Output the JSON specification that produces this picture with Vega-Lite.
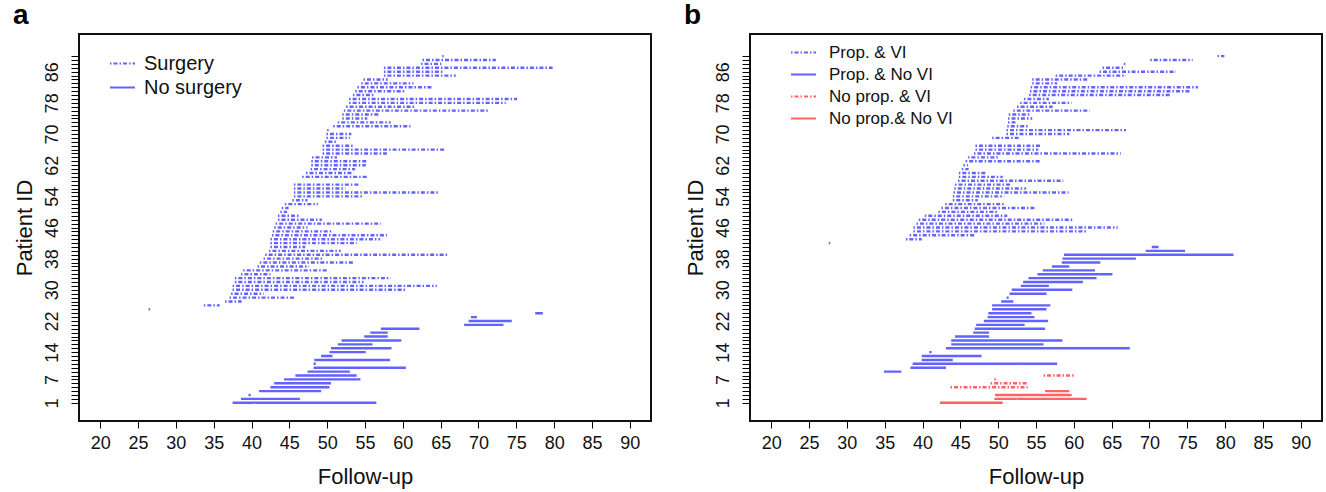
{
  "$schema": "https://vega.github.io/schema/vega-lite/v6.json",
  "padding": {"left": 11, "top": 1, "right": 4, "bottom": 4},
  "background": "white",
  "config": {
    "font": "Liberation Sans",
    "view": {"stroke": "#111", "strokeWidth": 2},
    "axis": {"grid": false, "domain": false, "tickColor": "#000", "tickWidth": 1, "labelColor": "#111", "titleColor": "#111", "titleFontWeight": "normal"},
    "legend": {"padding": 0}
  },
  "spacing": 30,
  "resolve": {"scale": {"color": "independent", "strokeDash": "independent"}, "legend": {"color": "independent", "strokeDash": "independent"}},
  "datasets": {
    "a": [
      {"id": 1, "start": 37.5, "end": 56.5, "group": "No surgery"},
      {"id": 2, "start": 38.6, "end": 46.4, "group": "No surgery"},
      {"id": 3, "start": 39.6, "end": 39.9, "group": "No surgery"},
      {"id": 4, "start": 41.0, "end": 49.2, "group": "No surgery"},
      {"id": 5, "start": 42.5, "end": 50.3, "group": "No surgery"},
      {"id": 6, "start": 43.0, "end": 50.5, "group": "No surgery"},
      {"id": 7, "start": 44.3, "end": 54.4, "group": "No surgery"},
      {"id": 8, "start": 45.8, "end": 53.9, "group": "No surgery"},
      {"id": 9, "start": 47.4, "end": 53.0, "group": "No surgery"},
      {"id": 10, "start": 48.2, "end": 60.4, "group": "No surgery"},
      {"id": 11, "start": 48.2, "end": 48.5, "group": "No surgery"},
      {"id": 12, "start": 48.3, "end": 58.3, "group": "No surgery"},
      {"id": 13, "start": 49.2, "end": 50.7, "group": "No surgery"},
      {"id": 14, "start": 50.3, "end": 55.1, "group": "No surgery"},
      {"id": 15, "start": 50.5, "end": 58.5, "group": "No surgery"},
      {"id": 16, "start": 51.4, "end": 56.0, "group": "No surgery"},
      {"id": 17, "start": 51.9, "end": 59.8, "group": "No surgery"},
      {"id": 18, "start": 54.9, "end": 58.0, "group": "No surgery"},
      {"id": 19, "start": 55.7, "end": 58.0, "group": "No surgery"},
      {"id": 20, "start": 57.1, "end": 62.2, "group": "No surgery"},
      {"id": 21, "start": 68.1, "end": 73.3, "group": "No surgery"},
      {"id": 22, "start": 68.7, "end": 74.4, "group": "No surgery"},
      {"id": 23, "start": 69.0, "end": 69.8, "group": "No surgery"},
      {"id": 24, "start": 77.5, "end": 78.5, "group": "No surgery"},
      {"id": 25, "start": 26.4, "end": 26.7, "group": "Surgery"},
      {"id": 26, "start": 33.7, "end": 35.8, "group": "Surgery"},
      {"id": 27, "start": 36.5, "end": 38.7, "group": "Surgery"},
      {"id": 28, "start": 37.1, "end": 45.7, "group": "Surgery"},
      {"id": 29, "start": 37.3, "end": 41.6, "group": "Surgery"},
      {"id": 30, "start": 37.5, "end": 60.3, "group": "Surgery"},
      {"id": 31, "start": 37.5, "end": 64.5, "group": "Surgery"},
      {"id": 32, "start": 37.8, "end": 54.8, "group": "Surgery"},
      {"id": 33, "start": 37.8, "end": 58.4, "group": "Surgery"},
      {"id": 34, "start": 38.6, "end": 42.5, "group": "Surgery"},
      {"id": 35, "start": 38.9, "end": 50.0, "group": "Surgery"},
      {"id": 36, "start": 40.8, "end": 47.6, "group": "Surgery"},
      {"id": 37, "start": 41.1, "end": 53.4, "group": "Surgery"},
      {"id": 38, "start": 41.6, "end": 49.6, "group": "Surgery"},
      {"id": 39, "start": 41.8, "end": 66.0, "group": "Surgery"},
      {"id": 40, "start": 42.3, "end": 51.8, "group": "Surgery"},
      {"id": 41, "start": 42.5, "end": 47.1, "group": "Surgery"},
      {"id": 42, "start": 42.5, "end": 53.9, "group": "Surgery"},
      {"id": 43, "start": 42.5, "end": 57.0, "group": "Surgery"},
      {"id": 44, "start": 42.7, "end": 57.9, "group": "Surgery"},
      {"id": 45, "start": 42.8, "end": 50.7, "group": "Surgery"},
      {"id": 46, "start": 43.0, "end": 47.4, "group": "Surgery"},
      {"id": 47, "start": 43.2, "end": 57.1, "group": "Surgery"},
      {"id": 48, "start": 43.5, "end": 49.3, "group": "Surgery"},
      {"id": 49, "start": 43.5, "end": 46.3, "group": "Surgery"},
      {"id": 50, "start": 43.8, "end": 44.7, "group": "Surgery"},
      {"id": 51, "start": 44.0, "end": 44.9, "group": "Surgery"},
      {"id": 52, "start": 44.4, "end": 48.8, "group": "Surgery"},
      {"id": 53, "start": 45.4, "end": 47.4, "group": "Surgery"},
      {"id": 54, "start": 45.6, "end": 54.8, "group": "Surgery"},
      {"id": 55, "start": 45.6, "end": 64.8, "group": "Surgery"},
      {"id": 56, "start": 45.6, "end": 52.4, "group": "Surgery"},
      {"id": 57, "start": 45.6, "end": 54.4, "group": "Surgery"},
      {"id": 59, "start": 46.7, "end": 55.3, "group": "Surgery"},
      {"id": 60, "start": 47.2, "end": 53.5, "group": "Surgery"},
      {"id": 61, "start": 47.8, "end": 53.7, "group": "Surgery"},
      {"id": 62, "start": 47.9, "end": 55.1, "group": "Surgery"},
      {"id": 63, "start": 47.9, "end": 55.3, "group": "Surgery"},
      {"id": 64, "start": 48.0, "end": 51.3, "group": "Surgery"},
      {"id": 65, "start": 49.4, "end": 57.9, "group": "Surgery"},
      {"id": 66, "start": 49.4, "end": 65.6, "group": "Surgery"},
      {"id": 67, "start": 49.4, "end": 53.4, "group": "Surgery"},
      {"id": 68, "start": 49.7, "end": 51.2, "group": "Surgery"},
      {"id": 69, "start": 49.9, "end": 53.0, "group": "Surgery"},
      {"id": 70, "start": 49.9, "end": 53.2, "group": "Surgery"},
      {"id": 71, "start": 50.0, "end": 50.3, "group": "Surgery"},
      {"id": 72, "start": 50.8, "end": 61.0, "group": "Surgery"},
      {"id": 73, "start": 51.4, "end": 58.4, "group": "Surgery"},
      {"id": 74, "start": 52.0, "end": 55.3, "group": "Surgery"},
      {"id": 75, "start": 52.0, "end": 56.9, "group": "Surgery"},
      {"id": 76, "start": 52.2, "end": 71.5, "group": "Surgery"},
      {"id": 77, "start": 52.5, "end": 61.7, "group": "Surgery"},
      {"id": 78, "start": 52.9, "end": 73.6, "group": "Surgery"},
      {"id": 79, "start": 52.9, "end": 75.1, "group": "Surgery"},
      {"id": 80, "start": 53.4, "end": 56.1, "group": "Surgery"},
      {"id": 81, "start": 53.7, "end": 60.4, "group": "Surgery"},
      {"id": 82, "start": 54.0, "end": 63.9, "group": "Surgery"},
      {"id": 83, "start": 54.5, "end": 61.4, "group": "Surgery"},
      {"id": 84, "start": 54.8, "end": 58.0, "group": "Surgery"},
      {"id": 85, "start": 57.5, "end": 67.0, "group": "Surgery"},
      {"id": 86, "start": 57.5, "end": 65.3, "group": "Surgery"},
      {"id": 87, "start": 57.5, "end": 79.8, "group": "Surgery"},
      {"id": 88, "start": 62.4, "end": 65.1, "group": "Surgery"},
      {"id": 89, "start": 62.6, "end": 72.3, "group": "Surgery"},
      {"id": 90, "start": 65.2, "end": 65.5, "group": "Surgery"}
    ],
    "b": [
      {"id": 1, "start": 42.3, "end": 50.6, "group": "No prop.& No VI"},
      {"id": 2, "start": 49.5, "end": 61.7, "group": "No prop.& No VI"},
      {"id": 3, "start": 49.6, "end": 59.7, "group": "No prop.& No VI"},
      {"id": 4, "start": 56.2, "end": 59.4, "group": "No prop.& No VI"},
      {"id": 5, "start": 43.7, "end": 53.9, "group": "No prop. & VI"},
      {"id": 6, "start": 49.0, "end": 54.0, "group": "No prop. & VI"},
      {"id": 7, "start": 49.5, "end": 49.8, "group": "No prop. & VI"},
      {"id": 8, "start": 56.0, "end": 60.1, "group": "No prop. & VI"},
      {"id": 9, "start": 34.9, "end": 37.2, "group": "Prop. & No VI"},
      {"id": 10, "start": 38.4, "end": 43.1, "group": "Prop. & No VI"},
      {"id": 11, "start": 38.7, "end": 57.8, "group": "Prop. & No VI"},
      {"id": 12, "start": 39.9, "end": 44.0, "group": "Prop. & No VI"},
      {"id": 13, "start": 39.9, "end": 47.8, "group": "Prop. & No VI"},
      {"id": 14, "start": 40.9, "end": 41.2, "group": "Prop. & No VI"},
      {"id": 15, "start": 43.1, "end": 67.4, "group": "Prop. & No VI"},
      {"id": 16, "start": 43.8, "end": 56.0, "group": "Prop. & No VI"},
      {"id": 17, "start": 43.8, "end": 58.5, "group": "Prop. & No VI"},
      {"id": 18, "start": 44.3, "end": 48.8, "group": "Prop. & No VI"},
      {"id": 19, "start": 46.7, "end": 48.8, "group": "Prop. & No VI"},
      {"id": 20, "start": 46.9, "end": 56.2, "group": "Prop. & No VI"},
      {"id": 21, "start": 47.1, "end": 53.5, "group": "Prop. & No VI"},
      {"id": 22, "start": 48.1, "end": 56.6, "group": "Prop. & No VI"},
      {"id": 23, "start": 48.6, "end": 54.8, "group": "Prop. & No VI"},
      {"id": 24, "start": 48.7, "end": 54.4, "group": "Prop. & No VI"},
      {"id": 25, "start": 49.2, "end": 56.4, "group": "Prop. & No VI"},
      {"id": 26, "start": 49.2, "end": 56.9, "group": "Prop. & No VI"},
      {"id": 27, "start": 50.4, "end": 52.0, "group": "Prop. & No VI"},
      {"id": 28, "start": 51.1, "end": 51.4, "group": "Prop. & No VI"},
      {"id": 29, "start": 51.5, "end": 56.4, "group": "Prop. & No VI"},
      {"id": 30, "start": 51.8, "end": 59.8, "group": "Prop. & No VI"},
      {"id": 31, "start": 53.0, "end": 56.7, "group": "Prop. & No VI"},
      {"id": 32, "start": 53.3, "end": 61.2, "group": "Prop. & No VI"},
      {"id": 33, "start": 54.0, "end": 63.0, "group": "Prop. & No VI"},
      {"id": 34, "start": 55.2, "end": 65.1, "group": "Prop. & No VI"},
      {"id": 35, "start": 55.9, "end": 62.8, "group": "Prop. & No VI"},
      {"id": 36, "start": 57.1, "end": 59.4, "group": "Prop. & No VI"},
      {"id": 37, "start": 58.4, "end": 63.5, "group": "Prop. & No VI"},
      {"id": 38, "start": 58.5, "end": 68.2, "group": "Prop. & No VI"},
      {"id": 39, "start": 58.7, "end": 81.1, "group": "Prop. & No VI"},
      {"id": 40, "start": 69.5, "end": 74.7, "group": "Prop. & No VI"},
      {"id": 41, "start": 70.3, "end": 71.2, "group": "Prop. & No VI"},
      {"id": 42, "start": 27.6, "end": 27.9, "group": "Prop. & VI"},
      {"id": 43, "start": 37.8, "end": 39.9, "group": "Prop. & VI"},
      {"id": 44, "start": 38.3, "end": 47.0, "group": "Prop. & VI"},
      {"id": 45, "start": 38.8, "end": 61.6, "group": "Prop. & VI"},
      {"id": 46, "start": 38.8, "end": 65.8, "group": "Prop. & VI"},
      {"id": 47, "start": 39.2, "end": 56.1, "group": "Prop. & VI"},
      {"id": 48, "start": 39.5, "end": 59.8, "group": "Prop. & VI"},
      {"id": 49, "start": 40.3, "end": 51.2, "group": "Prop. & VI"},
      {"id": 50, "start": 42.1, "end": 50.1, "group": "Prop. & VI"},
      {"id": 51, "start": 42.5, "end": 54.8, "group": "Prop. & VI"},
      {"id": 52, "start": 43.0, "end": 50.8, "group": "Prop. & VI"},
      {"id": 53, "start": 44.0, "end": 47.3, "group": "Prop. & VI"},
      {"id": 54, "start": 44.0, "end": 50.8, "group": "Prop. & VI"},
      {"id": 55, "start": 44.1, "end": 59.3, "group": "Prop. & VI"},
      {"id": 56, "start": 44.2, "end": 53.7, "group": "Prop. & VI"},
      {"id": 57, "start": 44.3, "end": 51.8, "group": "Prop. & VI"},
      {"id": 58, "start": 44.7, "end": 58.6, "group": "Prop. & VI"},
      {"id": 59, "start": 44.8, "end": 50.6, "group": "Prop. & VI"},
      {"id": 60, "start": 44.8, "end": 48.3, "group": "Prop. & VI"},
      {"id": 61, "start": 45.2, "end": 46.1, "group": "Prop. & VI"},
      {"id": 62, "start": 45.4, "end": 46.0, "group": "Prop. & VI"},
      {"id": 63, "start": 45.7, "end": 55.7, "group": "Prop. & VI"},
      {"id": 64, "start": 46.0, "end": 50.1, "group": "Prop. & VI"},
      {"id": 65, "start": 46.8, "end": 66.2, "group": "Prop. & VI"},
      {"id": 66, "start": 47.0, "end": 55.3, "group": "Prop. & VI"},
      {"id": 67, "start": 47.0, "end": 55.6, "group": "Prop. & VI"},
      {"id": 69, "start": 49.2, "end": 52.7, "group": "Prop. & VI"},
      {"id": 70, "start": 51.1, "end": 59.4, "group": "Prop. & VI"},
      {"id": 71, "start": 51.1, "end": 66.9, "group": "Prop. & VI"},
      {"id": 72, "start": 51.2, "end": 54.0, "group": "Prop. & VI"},
      {"id": 73, "start": 51.3, "end": 52.5, "group": "Prop. & VI"},
      {"id": 74, "start": 51.3, "end": 54.5, "group": "Prop. & VI"},
      {"id": 75, "start": 51.4, "end": 54.3, "group": "Prop. & VI"},
      {"id": 76, "start": 52.0, "end": 62.1, "group": "Prop. & VI"},
      {"id": 77, "start": 52.5, "end": 57.2, "group": "Prop. & VI"},
      {"id": 78, "start": 52.9, "end": 59.7, "group": "Prop. & VI"},
      {"id": 79, "start": 53.4, "end": 56.7, "group": "Prop. & VI"},
      {"id": 80, "start": 54.1, "end": 72.8, "group": "Prop. & VI"},
      {"id": 81, "start": 54.2, "end": 75.3, "group": "Prop. & VI"},
      {"id": 82, "start": 54.3, "end": 76.4, "group": "Prop. & VI"},
      {"id": 83, "start": 54.5, "end": 57.8, "group": "Prop. & VI"},
      {"id": 84, "start": 54.5, "end": 61.8, "group": "Prop. & VI"},
      {"id": 85, "start": 57.6, "end": 66.9, "group": "Prop. & VI"},
      {"id": 86, "start": 63.4, "end": 73.5, "group": "Prop. & VI"},
      {"id": 87, "start": 63.8, "end": 66.5, "group": "Prop. & VI"},
      {"id": 88, "start": 66.6, "end": 66.9, "group": "Prop. & VI"},
      {"id": 89, "start": 70.1, "end": 75.7, "group": "Prop. & VI"},
      {"id": 90, "start": 79.0, "end": 79.9, "group": "Prop. & VI"}
    ]
  },
  "hconcat": [
    {
      "title": {"text": "a", "anchor": "start", "frame": "bounds", "fontSize": 28, "fontWeight": "bold", "offset": 4, "color": "#000"},
      "width": 572,
      "height": 387,
      "data": {"name": "a"},
      "mark": {"type": "rule", "strokeWidth": 2.4},
      "encoding": {
        "x": {"field": "start", "type": "quantitative",
          "scale": {"domain": [17.2, 92.8], "nice": false, "zero": false},
          "axis": {"values": [20, 25, 30, 35, 40, 45, 50, 55, 60, 65, 70, 75, 80, 85, 90], "title": "Follow-up", "titleFontSize": 22, "labelFontSize": 18, "tickSize": 7, "labelPadding": 6, "titlePadding": 14, "labelOverlap": false, "labelFlush": false}},
        "x2": {"field": "end"},
        "y": {"field": "id", "type": "quantitative",
          "scale": {"domain": [-3.68, 95.68], "nice": false, "zero": false},
          "axis": {"values": [1,2,3,4,5,6,7,8,9,10,11,12,13,14,15,16,17,18,19,20,21,22,23,24,25,26,27,28,29,30,31,32,33,34,35,36,37,38,39,40,41,42,43,44,45,46,47,48,49,50,51,52,53,54,55,56,57,58,59,60,61,62,63,64,65,66,67,68,69,70,71,72,73,74,75,76,77,78,79,80,81,82,83,84,85,86,87,88,89,90],
            "labelExpr": "indexof([1,7,14,22,30,38,46,54,62,70,78,86], datum.value) >= 0 ? datum.label : ''",
            "labelAngle": -90, "labelAlign": "center", "labelBaseline": "bottom", "labelFontSize": 18, "tickSize": 8, "labelPadding": 10, "title": "Patient ID", "titleFontSize": 22, "titlePadding": 7, "labelOverlap": false, "labelFlush": false, "labelBound": false}},
        "color": {"field": "group", "type": "nominal", "scale": {"domain": ["Surgery", "No surgery"], "range": ["#6262ff", "#6262ff"]},
          "legend": {"title": null, "orient": "none", "legendX": 30, "legendY": 16, "symbolType": "stroke", "symbolSize": 625, "symbolStrokeWidth": 2, "labelFontSize": 20, "labelOffset": 8, "rowPadding": -3, "labelColor": "#111"}},
        "strokeDash": {"field": "group", "type": "nominal", "scale": {"domain": ["Surgery", "No surgery"], "range": [[1.5, 2, 4, 2], [1, 0]]},
          "legend": {"title": null, "orient": "none", "legendX": 30, "legendY": 16, "symbolType": "stroke", "symbolSize": 625, "symbolStrokeWidth": 2, "labelFontSize": 20, "labelOffset": 8, "rowPadding": -3, "labelColor": "#111"}}
      }
    },
    {
      "title": {"text": "b", "anchor": "start", "frame": "bounds", "fontSize": 28, "fontWeight": "bold", "offset": 4, "color": "#000"},
      "width": 572,
      "height": 387,
      "data": {"name": "b"},
      "mark": {"type": "rule", "strokeWidth": 2.4},
      "encoding": {
        "x": {"field": "start", "type": "quantitative",
          "scale": {"domain": [17.2, 92.8], "nice": false, "zero": false},
          "axis": {"values": [20, 25, 30, 35, 40, 45, 50, 55, 60, 65, 70, 75, 80, 85, 90], "title": "Follow-up", "titleFontSize": 22, "labelFontSize": 18, "tickSize": 7, "labelPadding": 6, "titlePadding": 14, "labelOverlap": false, "labelFlush": false}},
        "x2": {"field": "end"},
        "y": {"field": "id", "type": "quantitative",
          "scale": {"domain": [-3.68, 95.68], "nice": false, "zero": false},
          "axis": {"values": [1,2,3,4,5,6,7,8,9,10,11,12,13,14,15,16,17,18,19,20,21,22,23,24,25,26,27,28,29,30,31,32,33,34,35,36,37,38,39,40,41,42,43,44,45,46,47,48,49,50,51,52,53,54,55,56,57,58,59,60,61,62,63,64,65,66,67,68,69,70,71,72,73,74,75,76,77,78,79,80,81,82,83,84,85,86,87,88,89,90],
            "labelExpr": "indexof([1,7,14,22,30,38,46,54,62,70,78,86], datum.value) >= 0 ? datum.label : ''",
            "labelAngle": -90, "labelAlign": "center", "labelBaseline": "bottom", "labelFontSize": 18, "tickSize": 8, "labelPadding": 10, "title": "Patient ID", "titleFontSize": 22, "titlePadding": 7, "labelOverlap": false, "labelFlush": false, "labelBound": false}},
        "color": {"field": "group", "type": "nominal", "scale": {"domain": ["Prop. & VI", "Prop. & No VI", "No prop. & VI", "No prop.& No VI"], "range": ["#6262ff", "#6262ff", "#ff6262", "#ff6262"]},
          "legend": {"title": null, "orient": "none", "legendX": 40, "legendY": 5, "symbolType": "stroke", "symbolSize": 625, "symbolStrokeWidth": 2, "labelFontSize": 17, "labelOffset": 12, "rowPadding": -2, "labelColor": "#111"}},
        "strokeDash": {"field": "group", "type": "nominal", "scale": {"domain": ["Prop. & VI", "Prop. & No VI", "No prop. & VI", "No prop.& No VI"], "range": [[1.5, 2, 4, 2], [1, 0], [1.5, 2, 4, 2], [1, 0]]},
          "legend": {"title": null, "orient": "none", "legendX": 40, "legendY": 5, "symbolType": "stroke", "symbolSize": 625, "symbolStrokeWidth": 2, "labelFontSize": 17, "labelOffset": 12, "rowPadding": -2, "labelColor": "#111"}}
      }
    }
  ]
}
